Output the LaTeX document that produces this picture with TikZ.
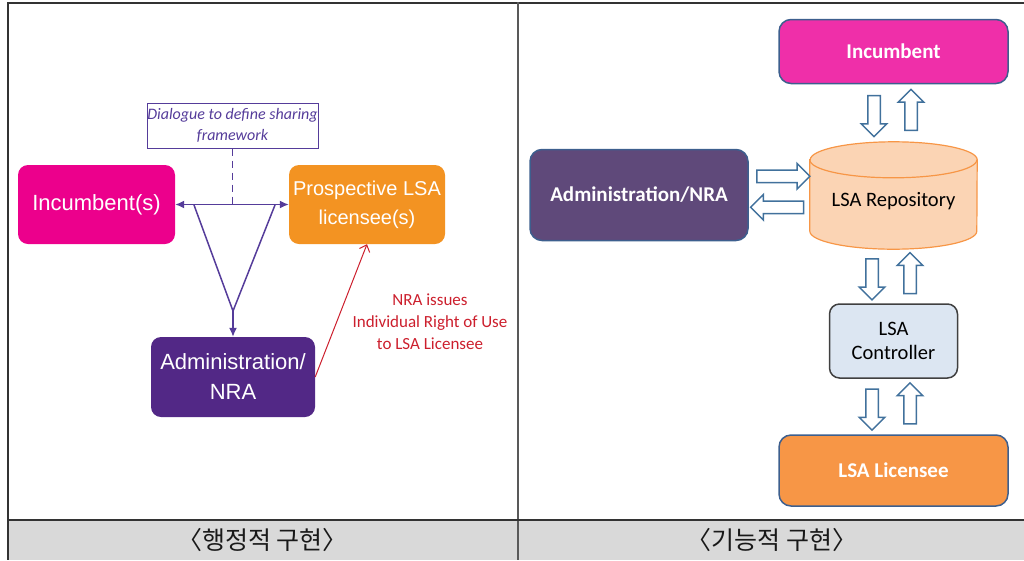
\documentclass[tikz,border=0pt]{standalone}
\usepackage{fontspec}
\setmainfont{Carlito}
\newfontfamily\arialfont{Liberation Sans}
\newfontfamily\korfont{Noto Sans CJK KR}
\usepackage{xcolor}
\usetikzlibrary{arrows.meta,calc,shapes.arrows,positioning}

\definecolor{incpink}{HTML}{EC008C}
\definecolor{prosorange}{HTML}{F39322}
\definecolor{admpurple}{HTML}{522886}
\definecolor{linepurple}{HTML}{553C9A}
\definecolor{issuered}{HTML}{CC1F2D}
\definecolor{incpinkR}{HTML}{EF2FA9}
\definecolor{admgrey}{HTML}{5F497A}
\definecolor{repofill}{HTML}{FBD4B4}
\definecolor{repoedge}{HTML}{F79646}
\definecolor{ctrlfill}{HTML}{DCE6F2}
\definecolor{licorange}{HTML}{F79646}
\definecolor{boxedge}{HTML}{3D5F8E}
\definecolor{arrowblue}{HTML}{41719C}
\definecolor{capgrey}{HTML}{D9D9D9}

\tikzset{
  leftbox/.style={rounded corners=10pt, text=white, align=center, inner sep=0pt},
  rightbox/.style={draw=boxedge, line width=1.5pt, rounded corners=12pt, align=center, inner sep=0pt},
  blockarrow/.style={single arrow, draw=arrowblue, fill=white, line width=1.5pt,
    minimum height=41pt, inner sep=5.5pt, single arrow head extend=6.5pt},
  purpleline/.style={draw=linepurple, line width=1.5pt},
}

\begin{document}
\begin{tikzpicture}[x=1pt,y=-1pt]
	\useasboundingbox (0,0) rectangle (1024,560);
	% frame and caption row
	\fill[capgrey] (7,520) rectangle (1024,560);
	\draw[line width=2pt,black!80] (7,2.5) -- (1024,2.5);
	\draw[line width=2pt,black!80] (7.5,2) -- (7.5,560);
	\draw[line width=2pt,black!65] (518,2) -- (518,560);
	\draw[line width=1.5pt,black!80] (7,520) -- (1024,520);
	\node[font=\korfont\fontsize{25}{28}\selectfont, text=black!90] (capA) at (262.5,540) {〈행정적 구현〉};
	\node[font=\korfont\fontsize{25}{28}\selectfont, text=black!90] (capB) at (772,540) {〈기능적 구현〉};

	% left: administrative view
	\node[draw=linepurple, line width=1pt, minimum width=171pt, minimum height=45pt, inner sep=0pt,
		align=center, text=linepurple, font=\itshape\fontsize{16}{21}\selectfont] (dlg) at (232.5,125.5)
		{Dialogue to define sharing\\framework};
	\node[leftbox, fill=incpink, minimum width=157pt, minimum height=79pt,
		font=\arialfont\fontsize{22}{29}\selectfont] (incL) at (96.5,204.5) {Incumbent(s)};
	\node[leftbox, fill=prosorange, minimum width=156pt, minimum height=79pt,
		font=\arialfont\fontsize{20}{29}\selectfont] (pros) at (367,204.5) {Prospective LSA\\licensee(s)};
	\node[leftbox, fill=admpurple, minimum width=164pt, minimum height=80pt,
		font=\arialfont\fontsize{22}{30}\selectfont] (admL) at (233,377) {Administration/\\NRA};
	\coordinate (triL) at (194,205);
	\coordinate (triR) at (275,205);
	\coordinate (apex) at (233,311);
	\draw[purpleline, {Latex[length=9pt,width=8pt]}-{Latex[length=9pt,width=8pt]}] (incL.east) -- (pros.west);
	\draw[purpleline, dashed, dash pattern=on 7pt off 5pt] (dlg.south) -- (dlg.south |- incL.east);
	\draw[purpleline, line join=round] (triL) -- (apex) -- (triR);
	\draw[purpleline, -{Latex[length=9pt,width=8pt]}] (apex) -- (admL.north);
	\draw[issuered, line width=1pt, -{Straight Barb[length=6pt,width=11pt]}] (admL.east) -- (pros.south);
	\node[text=issuered, align=center, font=\fontsize{17}{22}\selectfont] (issue) at (430,322)
		{NRA issues\\Individual Right of Use\\to LSA Licensee};

	% right: functional view
	\node[rightbox, fill=incpinkR, text=white, minimum width=229pt, minimum height=64pt,
		font=\bfseries\fontsize{21}{26}\selectfont] (incR) at (893.5,51.5) {Incumbent};
	\node[rightbox, fill=admgrey, text=white, minimum width=218pt, minimum height=91pt,
		font=\bfseries\fontsize{21}{26}\selectfont] (admR) at (639,195) {Administration/NRA};
	\node[minimum width=167pt, minimum height=107pt, inner sep=0pt] (repo) at (893.5,195.5) {};
	\draw[draw=repoedge, fill=repofill, line width=1.2pt]
		([yshift=-18pt]repo.north west) -- ([yshift=18pt]repo.south west)
		arc[start angle=180, end angle=360, x radius=83.5pt, y radius=18pt]
		-- ([yshift=-18pt]repo.north east)
		arc[start angle=0, end angle=180, x radius=83.5pt, y radius=18pt] -- cycle;
	\draw[draw=repoedge, line width=1.2pt] ([yshift=-18pt]repo.north west)
		arc[start angle=180, end angle=360, x radius=83.5pt, y radius=18pt];
	\node[font=\fontsize{20.5}{24}\selectfont] (repotext) at ($(repo.center)+(0,6)$) {LSA Repository};
	\node[rightbox, draw=black!75, fill=ctrlfill, rounded corners=10pt, minimum width=128pt, minimum height=74pt,
		font=\fontsize{20.5}{24}\selectfont] (ctrl) at (893.5,341) {LSA\\Controller};
	\node[rightbox, fill=licorange, text=white, minimum width=229pt, minimum height=71pt,
		font=\bfseries\fontsize{21}{26}\selectfont] (lic) at (893.5,470.5) {LSA Licensee};

	% block arrows
	\node[blockarrow, rotate=-90] (a1) at ($(incR.south)!0.5!(repo.north)+(-19.5,0)$) {};
	\node[blockarrow, rotate=90]  (a2) at ($(incR.south)!0.5!(repo.north)+(17.5,0)$) {};
	\node[blockarrow, rotate=-90] (a3) at ($(repo.south)!0.5!(ctrl.north)+(-21.5,0)$) {};
	\node[blockarrow, rotate=90]  (a4) at ($(repo.south)!0.5!(ctrl.north)+(16.5,0)$) {};
	\node[blockarrow, rotate=-90] (a5) at ($(ctrl.south)!0.5!(lic.north)+(-21.5,0)$) {};
	\node[blockarrow, rotate=90]  (a6) at ($(ctrl.south)!0.5!(lic.north)+(16.5,0)$) {};
	\node[blockarrow, minimum height=53pt] (a7) at ($(admR.east)!0.5!(repo.west)+(1,-19)$) {};
	\node[blockarrow, minimum height=53pt, rotate=180] (a8) at ($(admR.east)!0.5!(repo.west)+(1,12)$) {};
\end{tikzpicture}
\end{document}
